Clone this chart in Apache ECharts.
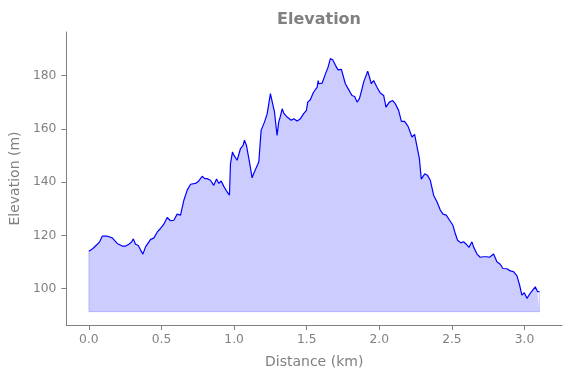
<!DOCTYPE html>
<html lang="en">
<head>
    <meta charset="utf-8">
    <script src="https://cdn.jsdelivr.net/npm/echarts@6/dist/echarts.min.js"></script>
    <style>
        html, body {margin: 0; padding: 0; background: #fff;}
        #elevation_chart {width: 571px; height: 378px;}
    </style>
</head>
<body>
<div id="elevation_chart"></div>
<script>
    // distance along the track (km)
    var distance = [
        0.000, 0.028, 0.058, 0.074, 0.092, 0.127, 0.161, 0.195, 0.230, 0.253,
        0.275, 0.294, 0.306, 0.321, 0.340, 0.356, 0.372, 0.390, 0.425, 0.447,
        0.471, 0.493, 0.516, 0.539, 0.562, 0.585, 0.608, 0.631, 0.654, 0.677,
        0.700, 0.734, 0.753, 0.762, 0.780, 0.798, 0.815, 0.837, 0.860, 0.879,
        0.895, 0.911, 0.929, 0.952, 0.968, 0.975, 0.989, 0.998, 1.007, 1.021,
        1.044, 1.062, 1.071, 1.085, 1.106, 1.124, 1.135, 1.147, 1.170, 1.186,
        1.209, 1.228, 1.250, 1.262, 1.278, 1.296, 1.307, 1.319, 1.331, 1.342,
        1.365, 1.393, 1.411, 1.434, 1.457, 1.479, 1.498, 1.507, 1.525, 1.537,
        1.548, 1.560, 1.572, 1.579, 1.583, 1.606, 1.629, 1.647, 1.663, 1.679,
        1.698, 1.716, 1.739, 1.766, 1.789, 1.812, 1.830, 1.847, 1.863, 1.881,
        1.892, 1.904, 1.920, 1.931, 1.945, 1.961, 1.984, 2.007, 2.030, 2.046,
        2.069, 2.092, 2.110, 2.133, 2.152, 2.174, 2.198, 2.225, 2.243, 2.260,
        2.276, 2.289, 2.313, 2.331, 2.351, 2.374, 2.397, 2.420, 2.439, 2.461,
        2.484, 2.507, 2.523, 2.539, 2.562, 2.580, 2.599, 2.617, 2.638, 2.649,
        2.673, 2.695, 2.718, 2.741, 2.759, 2.787, 2.810, 2.833, 2.851, 2.879,
        2.902, 2.924, 2.948, 2.966, 2.982, 2.998, 3.017, 3.039, 3.074, 3.090,
        3.103
    ];
    // elevation (m)
    var elevation = [
        114.1, 115.1, 116.7, 117.6, 119.7, 119.7, 119.1, 117.0, 116.0, 116.0,
        116.7, 117.5, 118.7, 116.7, 116.2, 114.5, 113.0, 115.7, 118.5, 119.0,
        121.3, 122.6, 124.2, 126.7, 125.5, 125.7, 128.0, 127.6, 133.2, 137.0,
        139.2, 139.5, 140.2, 139.5, 142.2, 141.3, 141.3, 140.7, 138.8, 141.2,
        139.5, 140.4, 138.4, 136.3, 135.1, 146.9, 151.3, 150.1, 150.7, 148.2,
        152.6, 153.8, 155.7, 153.8, 147.5, 141.6, 143.2, 142.6, 147.5, 159.4,
        162.5, 165.7, 173.2, 173.8, 166.3, 157.5, 162.5, 164.7, 167.5, 165.9,
        164.4, 163.2, 163.8, 162.9, 163.8, 165.7, 166.9, 170.0, 170.9, 172.5,
        173.8, 174.4, 175.6, 178.1, 176.9, 177.1, 180.6, 183.1, 186.3, 185.9,
        183.8, 182.1, 182.3, 176.9, 174.7, 172.5, 172.1, 170.0, 171.3, 175.0,
        177.5, 178.1, 181.6, 179.6, 176.9, 178.1, 175.6, 173.4, 172.5, 168.1,
        170.0, 170.6, 169.4, 166.9, 162.8, 162.8, 160.9, 156.9, 157.9, 153.2,
        148.8, 141.1, 143.1, 142.6, 140.7, 135.1, 132.6, 129.5, 128.0, 127.6,
        125.7, 123.8, 120.7, 118.2, 117.2, 117.6, 116.7, 115.5, 117.6, 115.7,
        113.0, 111.8, 112.0, 112.0, 111.8, 113.0, 110.1, 109.2, 107.6, 107.5,
        106.7, 106.4, 104.8, 101.4, 97.6, 98.5, 96.4, 98.3, 100.7, 98.9,
        98.9
    ];
    var xTicks = [0, 0.5, 1.0, 1.5, 2.0, 2.5, 3.0];
    var yTicks = [100, 120, 140, 160, 180];

    var eMin = Math.min.apply(null, elevation);
    var eMax = Math.max.apply(null, elevation);
    var dLast = distance[distance.length - 1];
    var base = eMin - 5;   // fill floor
    var pad = dLast * 0.05;

    var profile = distance.map(function (d, i) { return [d, elevation[i]]; });
    var outline = [
        [distance[0], elevation[0]], [distance[0], base],
        [dLast, base], [dLast, elevation[elevation.length - 1]]
    ];

    var grey = '#808080';
    var font = 'DejaVu Sans';

    var chart = echarts.init(document.getElementById('elevation_chart'));
    chart.setOption({
        animation: false,
        title: {
            text: 'Elevation',
            left: 314,
            top: 7,
            textAlign: 'center',
            textStyle: {color: grey, fontFamily: font, fontWeight: 'bold', fontSize: 16}
        },
        grid: {left: 66, right: 9, top: 32, bottom: 53, containLabel: false},
        xAxis: {
            type: 'value',
            min: -pad,
            max: dLast + pad,
            name: 'Distance (km)',
            nameLocation: 'middle',
            nameGap: 30,
            nameTextStyle: {color: grey, fontFamily: font, fontSize: 14},
            splitLine: {show: false},
            axisLine: {onZero: false, lineStyle: {color: grey, width: 1}},
            axisTick: {show: true, length: 5, customValues: xTicks, lineStyle: {color: grey}},
            axisLabel: {
                customValues: xTicks, margin: 9, color: grey, fontFamily: font, fontSize: 12.3,
                formatter: function (v) { return v.toFixed(1); }
            }
        },
        yAxis: {
            type: 'value',
            min: eMin - 10,
            max: eMax + 10,
            name: 'Elevation (m)',
            nameLocation: 'middle',
            nameGap: 40,
            nameRotate: 90,
            nameTextStyle: {color: grey, fontFamily: font, fontSize: 14},
            splitLine: {show: false},
            axisLine: {show: true, onZero: false, lineStyle: {color: grey, width: 1}},
            axisTick: {show: true, length: 5, customValues: yTicks, lineStyle: {color: grey}},
            axisLabel: {customValues: yTicks, margin: 10, color: grey, fontFamily: font, fontSize: 12.3}
        },
        series: [
            {
                type: 'line',
                data: profile,
                symbol: 'none',
                lineStyle: {color: '#0000ff', width: 1.2},
                areaStyle: {color: 'rgba(0,0,255,0.2)', opacity: 1, origin: base},
                z: 3
            },
            {
                type: 'line',
                data: outline,
                symbol: 'none',
                lineStyle: {color: 'rgba(0,0,255,0.2)', width: 1},
                z: 2
            }
        ]
    });
</script>
</body>
</html>
